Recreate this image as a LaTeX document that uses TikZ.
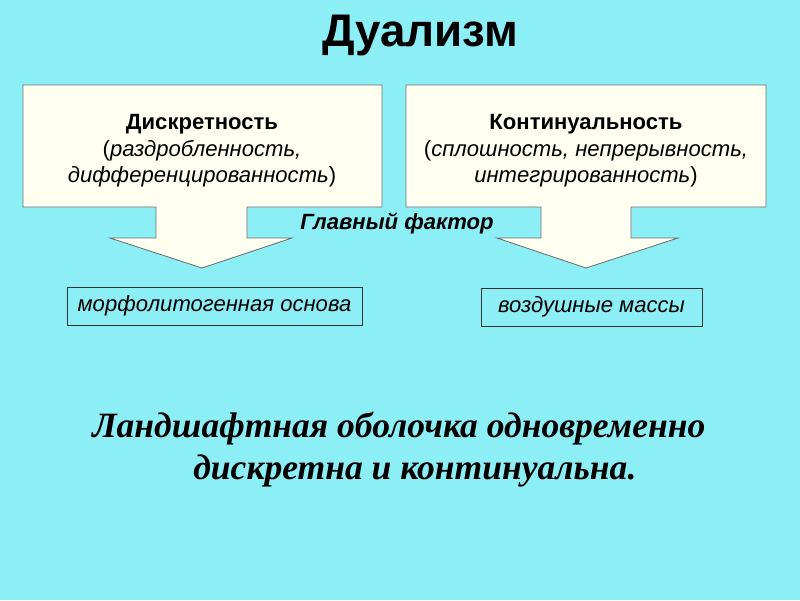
\documentclass[tikz,border=0pt]{standalone}
\usepackage{fontspec}
\setmainfont{Liberation Sans}
\newfontfamily\timesfont{Liberation Serif}
\definecolor{sky}{HTML}{8DEFF6}
\definecolor{cream}{HTML}{FFFFF2}
\definecolor{rim}{HTML}{6E6E6E}
\usetikzlibrary{positioning}
\tikzstyle{callout} = [draw=rim, fill=cream, line width=0.6pt, line join=miter]
\tikzstyle{boxtext} = [align=center, inner sep=0pt, font=\fontsize{15.7}{18.8}\selectfont]
\tikzstyle{factor} = [draw=black!80, thin, inner sep=0pt, font=\fontsize{15.7}{18}\selectfont\itshape]
\tikzstyle{summary} = [inner sep=0pt, anchor=base west, font=\timesfont\fontsize{25.3}{30}\selectfont\bfseries\itshape]

\begin{document}
\begin{tikzpicture}[x=0.025cm, y=-0.025cm]
\fill[sky] (0,0) rectangle (800,600);
\path[use as bounding box] (0,0) rectangle (800,600);

% title
\node (title) [anchor=base, inner sep=0pt, font=\fontsize{32.5}{38}\selectfont\bfseries] at (420,46) {Дуализм};

% two callouts
\draw[callout] (23,85) -- (382,85) -- (382,207) -- (247,207) -- (247,238) -- (292,238)
  -- (202,268) -- (110,238) -- (156,238) -- (156,207) -- (23,207) -- cycle;
\draw[callout] (406,85) -- (766,85) -- (766,207) -- (631,207) -- (631,238) -- (678,238)
  -- (586,268) -- (497,238) -- (541,238) -- (541,207) -- (406,207) -- cycle;

\node (disc) [boxtext] at (202,151) {\textbf{Дискретность}\\(\textit{раздробленность,}\\\textit{дифференцированность})};
\node (cont) [boxtext] at (586,151) {\textbf{Континуальность}\\(\textit{сплошность, непрерывность,}\\\textit{интегрированность})};

\node (main) [anchor=base, inner sep=0pt, font=\fontsize{15.7}{18}\selectfont\bfseries\itshape] at (397,229) {Главный фактор};

% factors
\node (relief) [factor, minimum width=7.375cm, minimum height=0.95cm] at (214.5,306) {морфолитогенная основа};
\node (air) [factor, minimum width=5.525cm, minimum height=0.95cm] at (591.5,307) {воздушные массы};

% conclusion
\node (line1) [summary] at (92,437) {Ландшафтная оболочка одновременно};
\node (line2) [summary] at (193,479) {дискретна и континуальна.};
\end{tikzpicture}
\end{document}
